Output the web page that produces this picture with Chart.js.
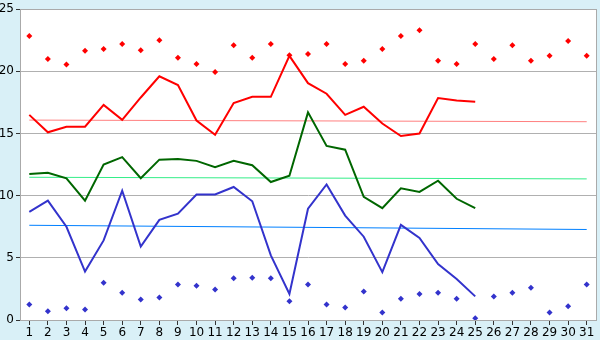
<!DOCTYPE html>
<html>
<head>
<meta charset="utf-8">
<script src="https://cdn.jsdelivr.net/npm/chart.js@4"></script>
<style>
  html, body { margin: 0; padding: 0; background: #d9f0f7; }
  #wrap { width: 600px; height: 340px; position: relative; }
</style>
</head>
<body>
<div id="wrap"><canvas id="chart" width="600" height="340"></canvas></div>
<script>
// Days of the month
const days = Array.from({ length: 31 }, (_, i) => String(i + 1));

// Daily mean lines (days 1-25)
const redLine = [16.5, 15.1, 15.55, 15.55, 17.3, 16.1, 17.9, 19.6, 18.9, 16.05,
  14.9, 17.45, 17.95, 17.95, 21.25, 19.05, 18.2, 16.5, 17.15, 15.8,
  14.8, 15.0, 17.85, 17.65, 17.55];
const greenLine = [11.75, 11.85, 11.4, 9.6, 12.5, 13.1, 11.4, 12.9, 12.95, 12.8,
  12.3, 12.8, 12.45, 11.1, 11.6, 16.7, 14.0, 13.7, 9.9, 9.0,
  10.6, 10.3, 11.2, 9.75, 9.0];
const blueLine = [8.7, 9.6, 7.5, 3.9, 6.4, 10.4, 5.9, 8.05, 8.55, 10.1,
  10.1, 10.7, 9.55, 5.2, 2.1, 8.95, 10.9, 8.4, 6.7, 3.85,
  7.65, 6.6, 4.5, 3.3, 1.9];

// Daily extremes (days 1-31)
const redPoints = [22.85, 21.0, 20.55, 21.65, 21.8, 22.2, 21.7, 22.5, 21.1, 20.6,
  19.95, 22.1, 21.1, 22.2, 21.3, 21.4, 22.2, 20.6, 20.85, 21.8,
  22.85, 23.3, 20.85, 20.6, 22.2, 21.0, 22.1, 20.85, 21.25, 22.45, 21.25];
const bluePoints = [1.25, 0.7, 0.95, 0.85, 3.0, 2.2, 1.65, 1.8, 2.85, 2.75,
  2.45, 3.35, 3.4, 3.35, 1.5, 2.85, 1.25, 1.0, 2.3, 0.6,
  1.7, 2.1, 2.2, 1.7, 0.15, 1.9, 2.2, 2.6, 0.6, 1.1, 2.85];

// Long-term reference lines: value on day 1 and day 31
const redTrend = [16.08, 15.95];
const greenTrend = [11.48, 11.35];
const blueTrend = [7.62, 7.28];

const yTicks = [0, 5, 10, 15, 20, 25];

function endpoints(pair) {
  return days.map((d, i) => i === 0 ? pair[0] : (i === days.length - 1 ? pair[1] : null));
}

function lineSet(data, color, width) {
  return {
    data: data,
    borderColor: color,
    backgroundColor: color,
    borderWidth: width,
    pointRadius: 0,
    tension: 0,
    spanGaps: true,
    fill: false
  };
}

function pointSet(data, color) {
  return {
    data: data,
    showLine: false,
    borderColor: color,
    backgroundColor: color,
    pointStyle: 'rectRot',
    pointRadius: 3,
    borderWidth: 0
  };
}

// White plot area with a grey frame
const plotFrame = {
  id: 'plotFrame',
  beforeDraw(chart) {
    const a = chart.chartArea;
    const ctx = chart.ctx;
    ctx.save();
    ctx.fillStyle = '#ffffff';
    ctx.fillRect(a.left, a.top, a.right - a.left, a.bottom - a.top);
    ctx.restore();
  },
  afterDraw(chart) {
    const a = chart.chartArea;
    const ctx = chart.ctx;
    ctx.save();
    ctx.strokeStyle = '#aaaaaa';
    ctx.lineWidth = 1;
    ctx.strokeRect(Math.round(a.left) + 0.5, Math.round(a.top) + 0.5,
      Math.round(a.right - a.left), Math.round(a.bottom - a.top));
    ctx.restore();
  }
};

const ctx = document.getElementById('chart').getContext('2d');
new Chart(ctx, {
  type: 'line',
  data: {
    labels: days,
    datasets: [
      lineSet(redLine, '#ff0000', 2),
      lineSet(greenLine, '#006600', 2),
      lineSet(blueLine, '#3333cc', 2),
      pointSet(redPoints, '#ff0000'),
      pointSet(bluePoints, '#3333cc'),
      lineSet(endpoints(redTrend), '#ff8080', 1),
      lineSet(endpoints(greenTrend), '#33ee88', 1),
      lineSet(endpoints(blueTrend), '#0080ff', 1)
    ]
  },
  options: {
    responsive: false,
    animation: false,
    layout: { padding: { top: 5, right: 4, left: 0, bottom: 0 } },
    plugins: {
      legend: { display: false },
      tooltip: { enabled: false }
    },
    scales: {
      x: {
        offset: true,
        grid: {
          offset: false,
          drawOnChartArea: false,
          drawTicks: true,
          tickLength: 5,
          color: '#333333'
        },
        border: { display: true, color: '#aaaaaa' },
        ticks: {
          color: '#000000',
          autoSkip: false,
          maxRotation: 0,
          padding: 1,
          font: { family: 'DejaVu Sans', size: 12 }
        },
        afterFit(scale) { scale.height = 20; }
      },
      y: {
        min: 0,
        max: 25,
        afterBuildTicks(scale) {
          scale.ticks = yTicks.map(v => ({ value: v }));
        },
        grid: {
          color: '#b0b0b0',
          drawTicks: true,
          tickLength: 4,
          tickColor: '#333333'
        },
        border: { display: true, color: '#aaaaaa' },
        ticks: {
          color: '#000000',
          padding: 2,
          font: { family: 'DejaVu Sans', size: 12 }
        },
        afterFit(scale) { scale.width = 20; }
      }
    }
  },
  plugins: [plotFrame]
});
</script>
</body>
</html>
